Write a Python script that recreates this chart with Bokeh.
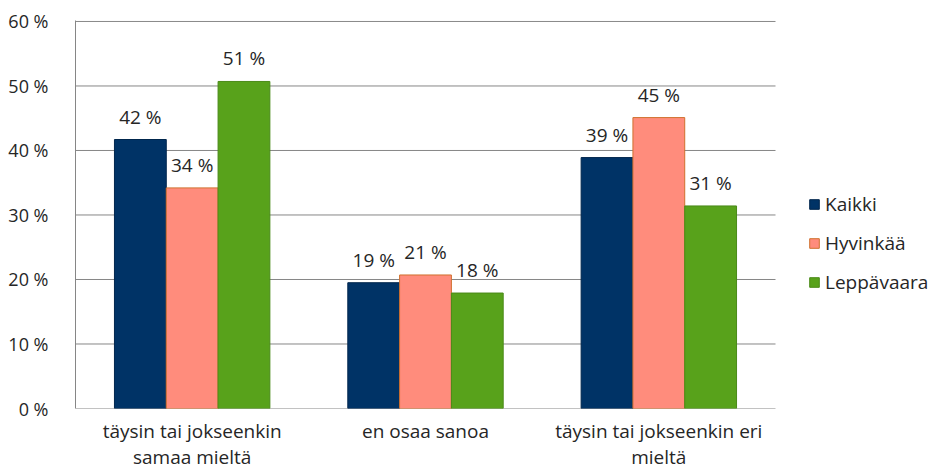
from bokeh.plotting import figure
from bokeh.models import Range1d, FixedTicker, Legend, LegendItem, ColumnDataSource
from bokeh.core.properties import value
from bokeh.embed import file_html
from bokeh.resources import INLINE

categories = ["täysin tai jokseenkin\nsamaa mieltä", "en osaa sanoa", "täysin tai jokseenkin eri\nmieltä"]
series = ["Kaikki", "Hyvinkää", "Leppävaara"]
kaikki = [41.7, 19.5, 38.9]
hyvinkaa = [34.2, 20.7, 45.1]
leppavaara = [50.7, 17.9, 31.4]
kaikki_labels = ["42 %", "19 %", "39 %"]
hyvinkaa_labels = ["34 %", "21 %", "45 %"]
leppavaara_labels = ["51 %", "18 %", "31 %"]
y_ticks = [0, 10, 20, 30, 40, 50, 60]
y_tick_labels = ["0 %", "10 %", "20 %", "30 %", "40 %", "50 %", "60 %"]

FONT = "Open Sans"
FS = "19px"
FS_Y = "18px"
TXT = "#262626"
GRID = "#868686"
fills = ["#003366", "#FF8C7C", "#58A21B"]
lines = ["#00264d", "#D0702E", "#4A8A18"]
values = [kaikki, hyvinkaa, leppavaara]
labels = [kaikki_labels, hyvinkaa_labels, leppavaara_labels]
offsets = [-0.222, 0.0, 0.222]
BAR_W = 0.222

n = len(categories)
centers = [i + 0.5 for i in range(n)]
# frame spans 75..930 px; the categories take 700 px of it
x_end = n * 855 / 700

p = figure(x_range=Range1d(0, x_end), y_range=Range1d(0, 60.15),
           width=930, height=472, output_backend="svg", toolbar_location=None,
           min_border_left=75, min_border_right=0, min_border_top=20, min_border_bottom=63)
p.outline_line_color = None
p.background_fill_color = "white"
p.xgrid.grid_line_color = None
p.ygrid.grid_line_color = None

# horizontal grid lines limited to the category area
p.segment(x0=[0] * len(y_ticks), x1=[n] * len(y_ticks), y0=y_ticks, y1=y_ticks,
          line_color=GRID, line_width=1, level="underlay")

renderers = []
for name, vals, labs, off, fc, lc in zip(series, values, labels, offsets, fills, lines):
    xs = [c + off for c in centers]
    src = ColumnDataSource(dict(x=xs, val=vals, lab=labs))
    r = p.vbar(x="x", top="val", width=BAR_W, source=src,
               fill_color=fc, line_color=lc, line_width=1)
    renderers.append((name, r))
    p.text(x="x", y="val", text="lab", source=src,
           text_align="center", text_baseline="bottom", y_offset=-10,
           text_font=value(FONT), text_font_size=FS, text_color=TXT)

p.yaxis.ticker = FixedTicker(ticks=y_ticks)
p.yaxis.major_label_overrides = {t: l for t, l in zip(y_ticks, y_tick_labels)}
p.yaxis.major_tick_line_color = None
p.yaxis.minor_tick_line_color = None
p.yaxis.axis_line_color = GRID
p.yaxis.major_label_text_font = FONT
p.yaxis.major_label_text_font_size = FS_Y
p.yaxis.major_label_text_color = TXT
p.yaxis.major_label_standoff = 21

p.xaxis.ticker = FixedTicker(ticks=centers)
p.xaxis.major_label_overrides = {c: l for c, l in zip(centers, categories)}
p.xaxis.major_tick_line_color = None
p.xaxis.minor_tick_line_color = None
p.xaxis.axis_line_color = None
p.xaxis.major_label_text_font = FONT
p.xaxis.major_label_text_font_size = FS
p.xaxis.major_label_text_color = TXT
p.xaxis.major_label_text_line_height = 1.0
p.xaxis.major_label_standoff = 3

legend = Legend(items=[LegendItem(label=s, renderers=[r]) for s, r in renderers],
                location=(733, 113), orientation="vertical",
                border_line_color=None, background_fill_alpha=0,
                label_text_font=FONT, label_text_font_size=FS, label_text_color=TXT,
                glyph_width=12, glyph_height=12, label_height=26, spacing=13,
                padding=0, margin=0, label_standoff=5)
p.add_layout(legend, "center")

open("out.html", "w").write(file_html(p, INLINE))
